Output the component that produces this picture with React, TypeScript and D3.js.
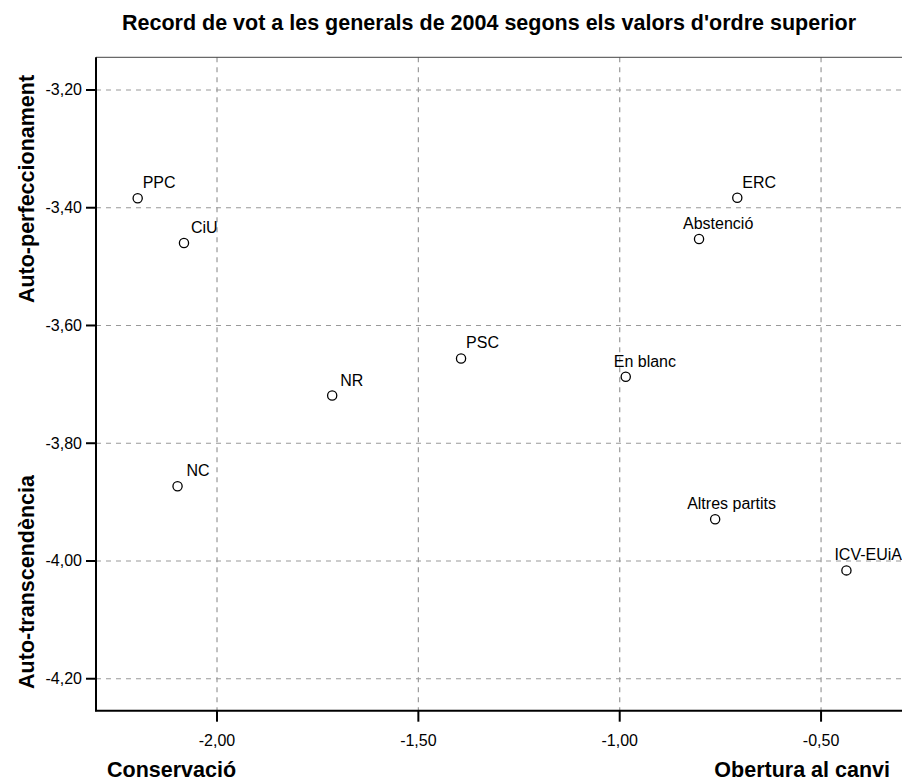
import React from "react";
import * as d3 from "d3";

const parties = ["PPC", "CiU", "ERC", "Abstenció", "NR", "PSC", "En blanc", "NC", "Altres partits", "ICV-EUiA"];
const conservacioObertura = [-2.197, -2.082, -0.708, -0.803, -1.714, -1.394, -0.985, -2.098, -0.763, -0.437];
const autoPerfTransc = [-3.384, -3.460, -3.383, -3.453, -3.719, -3.656, -3.687, -3.873, -3.929, -4.016];
const xTicks = [-2.0, -1.5, -1.0, -0.5];
const yTicks = [-3.2, -3.4, -3.6, -3.8, -4.0, -4.2];

// label offsets (layout, px)
const labelDx = [5, 7, 5, -16, 8, 5, -12, 9, -28, -12];

const W = 902;
const H = 781;
const L = 96, R = 902, T = 57.3, B = 710.7;

const fmt = (v: number) => v.toFixed(2).replace(".", ",");
const FONT = "'Liberation Sans', Arial, Helvetica, sans-serif";

export default function App() {
  const x = d3.scaleLinear().domain([-2.3005, -0.299]).range([L, R]);
  const y = d3.scaleLinear().domain([-4.2543, -3.1445]).range([B, T]);

  return (
    <svg width={W} height={H} style={{ position: "absolute", left: 0, top: 0 }} fontFamily={FONT}>
      <rect x={0} y={0} width={W} height={H} fill="#fff" />
      <text x={489} y={30} textAnchor="middle" fontSize={21.5} fontWeight="bold" fill="#000">
        Record de vot a les generals de 2004 segons els valors d'ordre superior
      </text>
      {/* grid */}
      {xTicks.map((t) => (
        <line key={"gx" + t} x1={x(t)} x2={x(t)} y1={T} y2={B} stroke="#999" strokeWidth={1.2} strokeDasharray="5,5" />
      ))}
      {yTicks.map((t) => (
        <line key={"gy" + t} x1={L} x2={R} y1={y(t)} y2={y(t)} stroke="#999" strokeWidth={1.2} strokeDasharray="5,5" />
      ))}
      {/* frame */}
      <line x1={L} x2={R} y1={T} y2={T} stroke="#444" strokeWidth={1} />
      <line x1={L} x2={L} y1={T} y2={B + 0.5} stroke="#000" strokeWidth={2} />
      <line x1={L - 1} x2={R} y1={B} y2={B} stroke="#000" strokeWidth={2} />
      {/* ticks */}
      {xTicks.map((t) => (
        <g key={"tx" + t}>
          <line x1={x(t)} x2={x(t)} y1={B} y2={B + 11} stroke="#000" strokeWidth={2} />
          <text x={x(t)} y={746} textAnchor="middle" fontSize={16} fill="#000">{fmt(t)}</text>
        </g>
      ))}
      {yTicks.map((t) => (
        <g key={"ty" + t}>
          <line x1={L - 10} x2={L} y1={y(t)} y2={y(t)} stroke="#000" strokeWidth={2} />
          <text x={82} y={y(t) + 5.5} textAnchor="end" fontSize={16} fill="#000">{fmt(t)}</text>
        </g>
      ))}
      {/* axis titles */}
      <text x={107} y={777} fontSize={21.5} fontWeight="bold" fill="#000">Conservació</text>
      <text x={890} y={777} textAnchor="end" fontSize={21.5} fontWeight="bold" fill="#000">Obertura al canvi</text>
      <text transform="translate(33.5,189) rotate(-90)" textAnchor="middle" fontSize={21.5} fontWeight="bold" fill="#000">Auto-perfeccionament</text>
      <text transform="translate(33.5,582) rotate(-90)" textAnchor="middle" fontSize={21.5} fontWeight="bold" fill="#000">Auto-transcendència</text>
      {/* points */}
      {parties.map((p, i) => (
        <g key={p}>
          <circle cx={x(conservacioObertura[i])} cy={y(autoPerfTransc[i])} r={4.6} fill="#fff" stroke="#000" strokeWidth={1.3} />
          <text x={x(conservacioObertura[i]) + labelDx[i]} y={y(autoPerfTransc[i]) - 10} fontSize={16} fill="#000">{p}</text>
        </g>
      ))}
    </svg>
  );
}
